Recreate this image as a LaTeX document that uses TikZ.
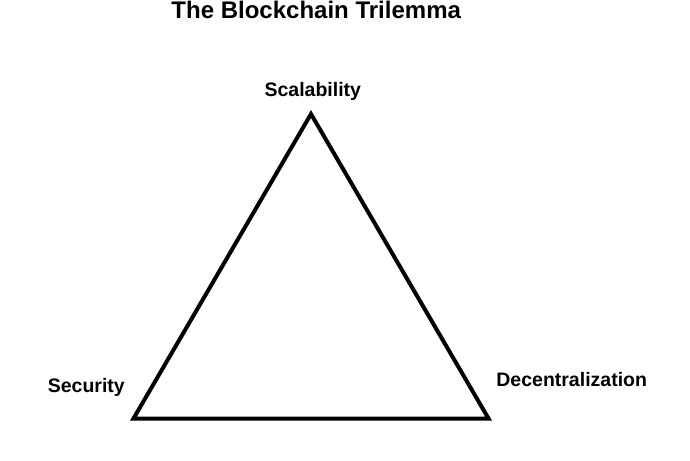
\documentclass[tikz,border=0pt]{standalone}
\usepackage{fontspec}
\setmainfont{Liberation Sans}
\begin{document}
\begin{tikzpicture}[x=1bp,y=-1bp,
  titlefont/.style={font=\bfseries\fontsize{24bp}{28bp}\selectfont},
  lbl/.style={font=\bfseries\fontsize{19.5bp}{23bp}\selectfont, inner sep=0pt, anchor=base},
  tri/.style={line width=4bp, line join=miter, draw=black}]
\useasboundingbox (0,0) rectangle (690,461);
\node[titlefont, inner sep=0pt, anchor=base] (title) at (316.2,19) {The Blockchain Trilemma};
\coordinate (top) at (311,114);
\coordinate (bl) at (133.5,418.5);
\coordinate (br) at (488.5,418.5);
\draw[tri] (top) -- (bl) -- (br) -- cycle;
\node[lbl] (scal) at (312.8,96.7) {Scalability};
\node[lbl] (sec) at (86.3,392.5) {Security};
\node[lbl] (dec) at (571.7,386.7) {Decentralization};
\end{tikzpicture}
\end{document}
